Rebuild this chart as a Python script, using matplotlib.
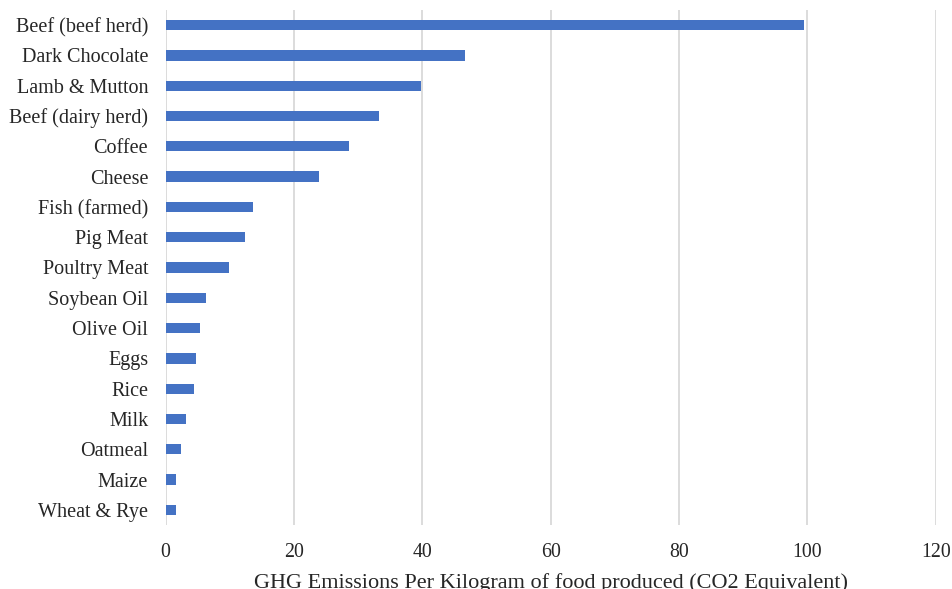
import matplotlib
matplotlib.use("Agg")
import matplotlib.pyplot as plt

foods = ["Beef (beef herd)", "Dark Chocolate", "Lamb & Mutton", "Beef (dairy herd)",
         "Coffee", "Cheese", "Fish (farmed)", "Pig Meat", "Poultry Meat",
         "Soybean Oil", "Olive Oil", "Eggs", "Rice", "Milk", "Oatmeal",
         "Maize", "Wheat & Rye"]
emissions = [99.48, 46.65, 39.72, 33.30, 28.53, 23.88, 13.63, 12.31, 9.87,
             6.32, 5.42, 4.67, 4.45, 3.15, 2.48, 1.70, 1.57]
x_ticks = [0, 20, 40, 60, 80, 100, 120]
x_label = "GHG Emissions Per Kilogram of food produced (CO2 Equivalent)"

plt.rcParams["font.family"] = ["Liberation Serif", "DejaVu Serif"]
text_color = "#262626"

fig = plt.figure(figsize=(9.53, 5.89), dpi=100)
ax = fig.add_axes([0.1737, 0.1087, 0.8083, 0.8743])

positions = list(range(len(foods)))
ax.barh(positions, emissions, height=0.34, color="#4472C4", zorder=3)
ax.set_yticks(positions)
ax.set_yticklabels(foods)
ax.set_ylim(len(foods) - 0.5, -0.5)

ax.set_xlim(0, 120)
ax.set_xticks(x_ticks)
ax.set_xticklabels([str(t) for t in x_ticks])
ax.grid(axis="x", color="#d9d9d9", linewidth=1.3, zorder=0)
ax.grid(axis="y", visible=False)

for s in ax.spines.values():
    s.set_visible(False)

ax.tick_params(axis="y", length=0, pad=12.5, labelsize=14.5, labelcolor=text_color)
ax.tick_params(axis="x", length=0, pad=13, labelsize=14.3, labelcolor=text_color)
ax.set_xlabel(x_label, fontsize=16, color=text_color, labelpad=8)

fig.savefig("out.png", dpi=100)
